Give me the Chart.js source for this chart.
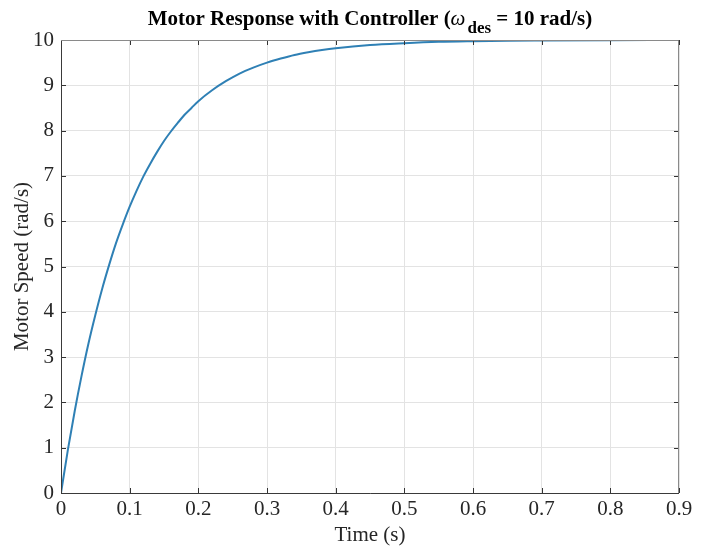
<!DOCTYPE html>
<html>
<head>
<meta charset="utf-8">
<script src="https://cdn.jsdelivr.net/npm/chart.js@4"></script>
<style>
  html, body { margin: 0; padding: 0; background: #ffffff; }
  #wrap { width: 704px; height: 550px; position: relative; }
</style>
</head>
<body>
<div id="wrap"><canvas id="c" width="704" height="550"></canvas></div>
<script>
// Time samples (s)
const timeValues = [0, 0.01, 0.02, 0.03, 0.04, 0.05, 0.06, 0.07, 0.08, 0.09, 0.10,
  0.11, 0.12, 0.13, 0.14, 0.15, 0.16, 0.17, 0.18, 0.19, 0.20,
  0.22, 0.24, 0.26, 0.28, 0.30, 0.32, 0.34, 0.36, 0.38, 0.40,
  0.45, 0.50, 0.55, 0.60, 0.65, 0.70, 0.80, 0.90];
// Motor speed (rad/s)
const speedValues = [0, 0.95, 1.81, 2.59, 3.30, 3.93, 4.51, 5.03, 5.51, 5.93, 6.32,
  6.67, 6.99, 7.27, 7.53, 7.77, 7.98, 8.17, 8.35, 8.50, 8.65,
  8.89, 9.09, 9.26, 9.39, 9.50, 9.59, 9.67, 9.73, 9.78, 9.82,
  9.89, 9.93, 9.96, 9.975, 9.985, 9.99, 9.997, 10.0];
const xTickLabels = ['0', '0.1', '0.2', '0.3', '0.4', '0.5', '0.6', '0.7', '0.8', '0.9'];
const yTickLabels = ['0', '1', '2', '3', '4', '5', '6', '7', '8', '9', '10'];

const titleMain = 'Motor Response with Controller (';
const titleOmega = 'ω';
const titleSub = 'des';
const titleEnd = ' = 10 rad/s)';
const xTitle = 'Time (s)';
const yTitle = 'Motor Speed (rad/s)';

const SERIF = '"Liberation Serif", "Times New Roman", serif';

const points = timeValues.map((t, i) => ({ x: t, y: speedValues[i] }));

const decor = {
  id: 'decor',
  afterDraw(chart) {
    const ctx = chart.ctx;
    const a = chart.chartArea;
    const xs = chart.scales.x, ys = chart.scales.y;
    ctx.save();
    // inward tick marks
    ctx.strokeStyle = '#333333';
    ctx.lineWidth = 1;
    const tl = 5;
    ctx.beginPath();
    for (let i = 0; i < xTickLabels.length; i++) {
      const px = Math.round(xs.getPixelForValue(parseFloat(xTickLabels[i]))) + 0.5;
      ctx.moveTo(px, a.bottom); ctx.lineTo(px, a.bottom - tl);
      ctx.moveTo(px, a.top); ctx.lineTo(px, a.top + tl);
    }
    for (let i = 0; i < yTickLabels.length; i++) {
      const py = Math.round(ys.getPixelForValue(parseFloat(yTickLabels[i]))) + 0.5;
      ctx.moveTo(a.left, py); ctx.lineTo(a.left + tl, py);
      ctx.moveTo(a.right, py); ctx.lineTo(a.right - tl, py);
    }
    ctx.stroke();
    // box
    ctx.strokeStyle = '#3a3a3a';
    ctx.beginPath();
    ctx.moveTo(Math.round(a.left) + 0.5, a.top);
    ctx.lineTo(Math.round(a.left) + 0.5, Math.round(a.bottom) + 0.5);
    ctx.lineTo(a.right, Math.round(a.bottom) + 0.5);
    ctx.stroke();
    ctx.strokeStyle = '#8a8a8a';
    ctx.beginPath();
    ctx.moveTo(a.left, Math.round(a.top) + 0.5);
    ctx.lineTo(Math.round(a.right) - 0.5, Math.round(a.top) + 0.5);
    ctx.lineTo(Math.round(a.right) - 0.5, a.bottom);
    ctx.stroke();

    // title with subscript
    ctx.fillStyle = '#000000';
    ctx.textBaseline = 'alphabetic';
    const fMain = 'bold 21px ' + SERIF;
    const fOm = 'italic 21px ' + SERIF;
    const fSub = 'bold 17px ' + SERIF;
    ctx.font = fMain; const w1 = ctx.measureText(titleMain).width;
    ctx.font = fOm; const w2 = ctx.measureText(titleOmega).width + 2;
    ctx.font = fSub; const w3 = ctx.measureText(titleSub).width;
    ctx.font = fMain; const w4 = ctx.measureText(titleEnd).width;
    const total = w1 + w2 + w3 + w4;
    let x = (a.left + a.right) / 2 - total / 2;
    const base = 25;
    ctx.font = fMain; ctx.textAlign = 'left';
    ctx.fillText(titleMain, x, base); x += w1;
    ctx.font = fOm; ctx.fillText(titleOmega, x, base); x += w2;
    ctx.font = fSub; ctx.fillText(titleSub, x, base + 8); x += w3;
    ctx.font = fMain; ctx.fillText(titleEnd, x, base);

    // axis titles
    ctx.fillStyle = '#262626';
    ctx.font = '21px ' + SERIF;
    ctx.textAlign = 'center';
    ctx.textBaseline = 'middle';
    ctx.fillText(xTitle, (a.left + a.right) / 2, 535);
    ctx.translate(22, (a.top + a.bottom) / 2);
    ctx.rotate(-Math.PI / 2);
    ctx.fillText(yTitle, 0, 0);
    ctx.restore();
  }
};

new Chart(document.getElementById('c'), {
  type: 'line',
  data: {
    datasets: [{
      data: points,
      borderColor: '#2f80b5',
      borderWidth: 2,
      pointRadius: 0,
      fill: false,
      cubicInterpolationMode: 'monotone'
    }]
  },
  options: {
    responsive: false,
    animation: false,
    devicePixelRatio: 1,
    layout: { padding: { left: 0, right: 25, top: 40, bottom: 0 } },
    plugins: { legend: { display: false }, tooltip: { enabled: false }, title: { display: false } },
    scales: {
      x: {
        type: 'linear',
        min: 0, max: 0.9,
        afterFit(s) { s.height = 57; },
        afterBuildTicks(s) { s.ticks = xTickLabels.map(v => ({ value: parseFloat(v) })); },
        ticks: {
          callback: (v, i) => xTickLabels[i],
          font: { family: SERIF, size: 21 },
          color: '#262626',
          padding: 4,
          maxRotation: 0,
          autoSkip: false
        },
        grid: { color: '#e3e3e3', drawTicks: false, lineWidth: 1 },
        border: { display: false }
      },
      y: {
        type: 'linear',
        min: 0, max: 10,
        afterFit(s) { s.width = 61; },
        afterBuildTicks(s) { s.ticks = yTickLabels.map(v => ({ value: parseFloat(v) })); },
        ticks: {
          callback: (v, i) => yTickLabels[i],
          font: { family: SERIF, size: 21 },
          color: '#262626',
          padding: 7,
          autoSkip: false
        },
        grid: { color: '#e3e3e3', drawTicks: false, lineWidth: 1 },
        border: { display: false }
      }
    }
  },
  plugins: [decor]
});
</script>
</body>
</html>
